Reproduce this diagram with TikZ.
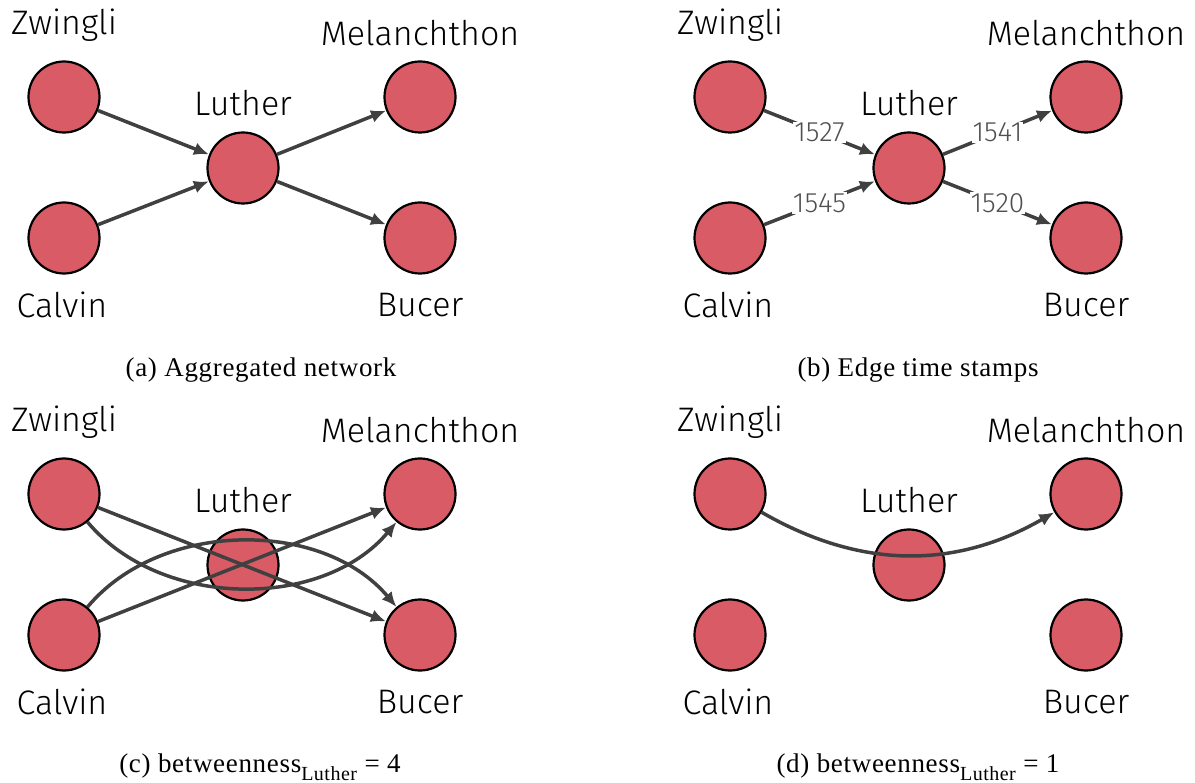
\documentclass[tikz,border=0pt]{standalone}
\usepackage{fontspec}
\newfontfamily\lab{Fira Sans Light}
\newfontfamily\capfont[LetterSpace=2.5]{Liberation Serif}
\usetikzlibrary{arrows.meta}
\definecolor{nodered}{HTML}{D95B66}
\definecolor{edgegray}{HTML}{404040}
\definecolor{labgray}{HTML}{505050}
\begin{document}
\begin{tikzpicture}[x=1pt,y=-1pt,
  vert/.style={circle,draw=black,line width=2.2pt,fill=nodered,minimum size=71pt,inner sep=0pt},
  lbl/.style={font=\lab\fontsize{34}{37}\selectfont,inner sep=0pt},
  link/.style={draw=edgegray,line width=3.5pt,-{Latex[length=15pt,width=13pt]}},
  stamp/.style={font=\lab\fontsize{28}{30}\selectfont,text=labgray,fill=white,inner sep=1pt},
  capt/.style={font=\capfont\fontsize{27}{30}\selectfont,inner sep=0pt}]
\useasboundingbox (0,0) rectangle (1195,783);
\foreach \p/\dx/\dy in {a/0/0,b/666/0,c/0/397,d/666/397}{
  \begin{scope}[shift={(\dx,\dy)}]
    \node[vert] (\p z) at (64,97) {};
    \node[vert] (\p c) at (64,238) {};
    \node[vert] (\p l) at (243,168) {};
    \node[vert] (\p m) at (420,97) {};
    \node[vert] (\p b) at (420,238) {};
    \node[lbl] (\p zl) at (64,25) {Zwingli};
    \node[lbl] (\p cl) at (62,305) {Calvin};
    \node[lbl] (\p ll) at (243,103) {Luther};
    \node[lbl] (\p ml) at (420,33) {Melanchthon};
    \node[lbl] (\p bl) at (420,305) {Bucer};
  \end{scope}
}
% (a)
\draw[link] (az) -- (al);
\draw[link] (ac) -- (al);
\draw[link] (al) -- (am);
\draw[link] (al) -- (ab);
% (b)
\draw[link] (bz) -- node[stamp] {1527} (bl);
\draw[link] (bc) -- node[stamp] {1545} (bl);
\draw[link] (bl) -- node[stamp] {1541} (bm);
\draw[link] (bl) -- node[stamp] {1520} (bb);
% (c)
\draw[link] (cz) -- (cb);
\draw[link] (cc) -- (cm);
\draw[link] (cz) to[out=-50,in=-130,looseness=0.95] (cm);
\draw[link] (cc) to[out=50,in=130,looseness=0.95] (cb);
% (d)
\draw[link] (dz) to[bend right=30,looseness=1.0] (dm);
% captions
\node[capt] (capa) at (261,370) {(a) Aggregated network};
\node[capt] (capb) at (918,370) {(b) Edge time stamps};
\node[capt] (capc) at (260,767) {(c) betweenness\raisebox{-0.3em}{\fontsize{20}{22}\selectfont Luther} = 4};
\node[capt] (capd) at (918,767) {(d) betweenness\raisebox{-0.3em}{\fontsize{20}{22}\selectfont Luther} = 1};
\end{tikzpicture}
\end{document}
